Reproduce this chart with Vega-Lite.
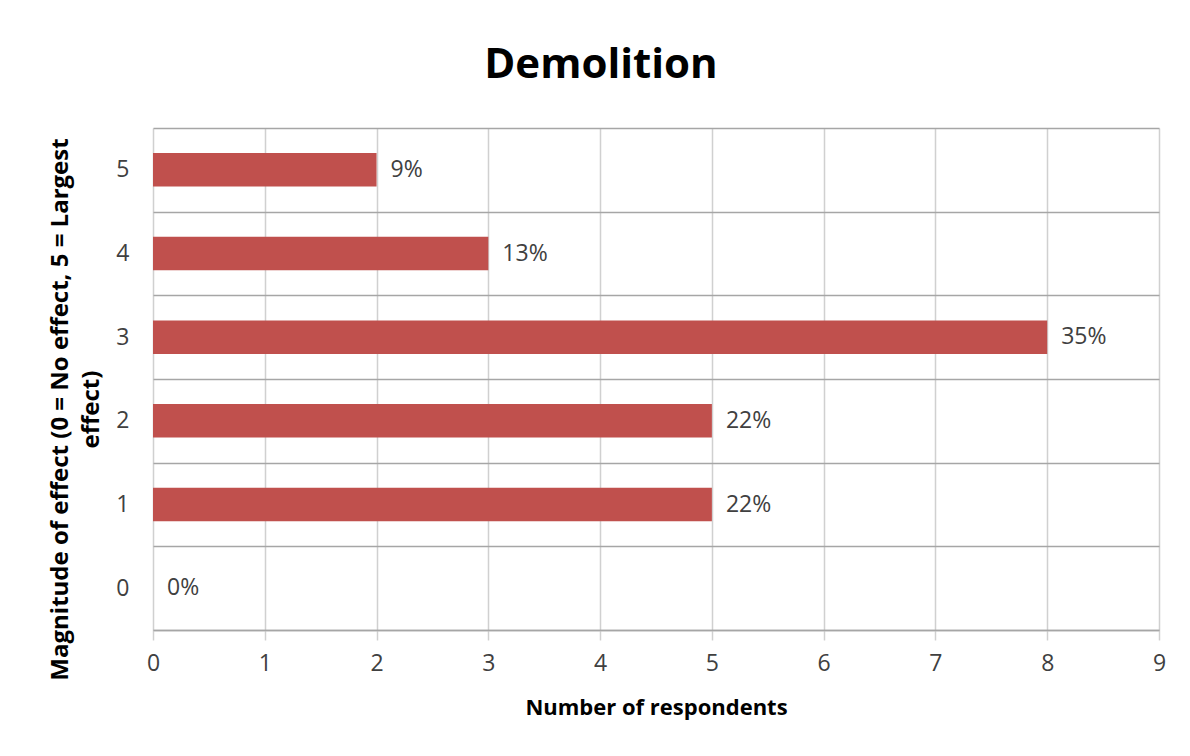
{
  "$schema": "https://vega.github.io/schema/vega-lite/v6.json",
  "autosize": "none",
  "width": 1006,
  "height": 502,
  "padding": {"left": 153, "top": 128, "right": 31, "bottom": 126},
  "background": "white",
  "title": {
    "text": "Demolition",
    "font": "Open Sans",
    "fontSize": 42,
    "fontWeight": "bold",
    "color": "#000000",
    "anchor": "middle",
    "dx": -55,
    "offset": 30
  },
  "data": {
    "values": [
      {"magnitude": "5", "respondents": 2, "pct": "9%"},
      {"magnitude": "4", "respondents": 3, "pct": "13%"},
      {"magnitude": "3", "respondents": 8, "pct": "35%"},
      {"magnitude": "2", "respondents": 5, "pct": "22%"},
      {"magnitude": "1", "respondents": 5, "pct": "22%"},
      {"magnitude": "0", "respondents": 0, "pct": "0%"}
    ]
  },
  "encoding": {
    "y": {
      "field": "magnitude",
      "type": "nominal",
      "sort": ["5", "4", "3", "2", "1", "0"],
      "scale": {"paddingInner": 0, "paddingOuter": 0},
      "axis": {
        "title": ["Magnitude of effect (0 = No effect, 5 = Largest", "effect)"],
        "titleFont": "Open Sans",
        "titleFontSize": 24,
        "titleFontWeight": "bold",
        "titleColor": "#000000",
        "titleLineHeight": 31,
        "titleY": 281,
        "titlePadding": 12,
        "labelFont": "Open Sans",
        "labelFontSize": 23,
        "labelColor": "#404040",
        "labelPadding": 24,
        "labelAngle": 0,
        "tickBand": "extent",
        "ticks": false,
        "domain": false,
        "grid": true,
        "gridColor": "#A6A6A6",
        "gridWidth": 1.5
      }
    }
  },
  "layer": [
    {
      "mark": {"type": "bar", "color": "#C0504D", "height": {"band": 0.4}},
      "encoding": {
        "x": {
          "field": "respondents",
          "type": "quantitative",
          "scale": {"domain": [0, 9], "nice": false},
          "axis": {
            "title": "Number of respondents",
            "titleFont": "Open Sans",
            "titleFontSize": 22,
            "titleFontWeight": "bold",
            "titleColor": "#000000",
            "titlePadding": 22,
            "values": [0, 1, 2, 3, 4, 5, 6, 7, 8, 9],
            "format": "d",
            "labelFlush": false,
            "labelFont": "Open Sans",
            "labelFontSize": 23,
            "labelColor": "#404040",
            "labelPadding": 12,
            "tickSize": 10,
            "tickColor": "#D0D0D0",
            "tickWidth": 1.5,
            "domainColor": "#A6A6A6",
            "domainWidth": 1.5,
            "grid": true,
            "gridColor": "#D0D0D0",
            "gridWidth": 1.5
          }
        }
      }
    },
    {
      "mark": {
        "type": "text",
        "align": "left",
        "baseline": "middle",
        "dx": 14,
        "font": "Open Sans",
        "fontSize": 23,
        "color": "#404040"
      },
      "encoding": {
        "x": {"field": "respondents", "type": "quantitative"},
        "text": {"field": "pct", "type": "nominal"}
      }
    }
  ],
  "config": {"view": {"stroke": null}}
}
